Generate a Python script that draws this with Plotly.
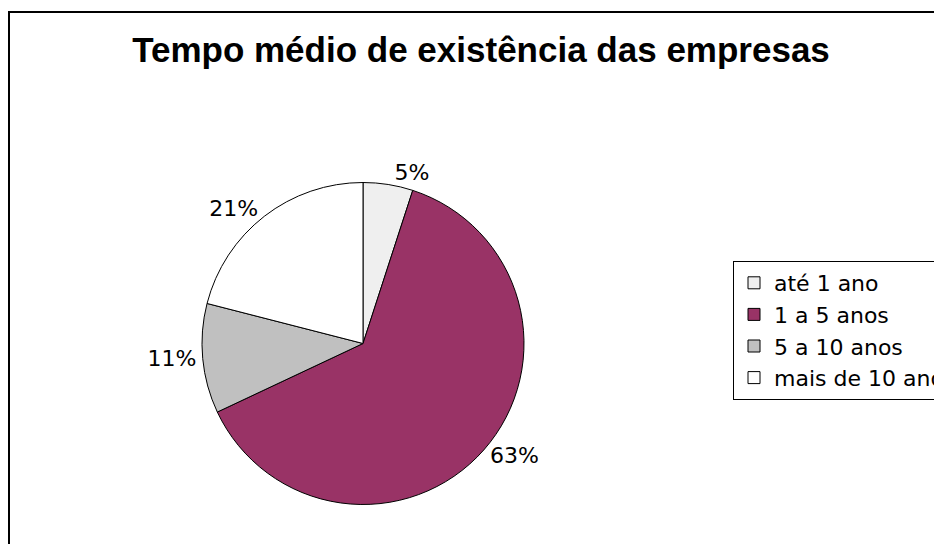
import plotly.graph_objects as go

categories = ["até 1 ano", "1 a 5 anos", "5 a 10 anos", "mais de 10 anos"]
values = [5, 63, 11, 21]
colors = ["#EFEFEF", "#993366", "#C0C0C0", "#FFFFFF"]

W, H = 942, 544

fig = go.Figure(
    go.Pie(
        labels=categories,
        values=values,
        sort=False,
        direction="clockwise",
        rotation=0,
        marker=dict(colors=colors, line=dict(color="#000000", width=1)),
        texttemplate="%{value}%",
        textposition="outside",
        outsidetextfont=dict(family="DejaVu Sans", size=22, color="#000000"),
        domain=dict(x=[194 / W, 516 / W], y=[47.5 / H, 369.5 / H]),
        showlegend=True,
        hoverinfo="label+percent",
    )
)

fig.update_layout(
    width=W,
    height=H,
    margin=dict(l=0, r=0, t=0, b=0, autoexpand=False),
    paper_bgcolor="#FFFFFF",
    plot_bgcolor="#FFFFFF",
    title=dict(
        text="<b>Tempo médio de existência das empresas</b>",
        font=dict(family="Liberation Sans", size=35, color="#000000"),
        x=473 / W,
        xanchor="center",
        y=1 - 42 / H,
        yanchor="middle",
        yref="container",
    ),
    legend=dict(
        x=725 / W,
        y=1 - 253 / H,
        xanchor="left",
        yanchor="top",
        bgcolor="#FFFFFF",
        bordercolor="#000000",
        borderwidth=1,
        font=dict(family="DejaVu Sans", size=22, color="#000000"),
        itemwidth=30,
    ),
    shapes=[
        dict(
            type="rect",
            xref="paper",
            yref="paper",
            x0=1 / W,
            x1=1.1,
            y0=-0.1,
            y1=1 - 4 / H,
            line=dict(color="#000000", width=2),
            fillcolor="rgba(0,0,0,0)",
            layer="below",
        )
    ],
)

fig.write_html("out.html")
